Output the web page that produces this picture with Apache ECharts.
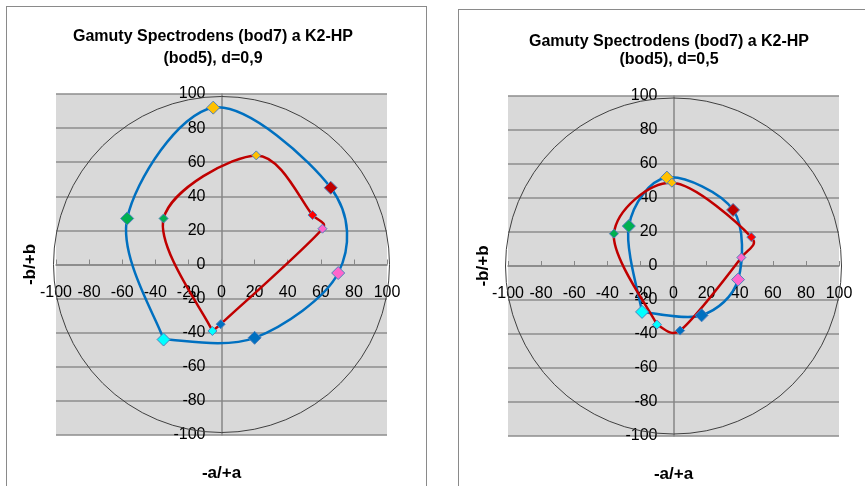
<!DOCTYPE html>
<html><head><meta charset="utf-8">
<script src="https://cdn.jsdelivr.net/npm/echarts/dist/echarts.min.js"></script>
<style>
html,body{margin:0;padding:0;background:#fff;overflow:hidden;}
#c{position:absolute;left:0;top:0;width:865px;height:486px;}
.box{position:absolute;border:1px solid #8a8a8a;}
</style></head><body>
<div class="box" style="left:6px;top:6px;width:419px;height:520px;"></div>
<div class="box" style="left:458px;top:9px;width:440px;height:520px;"></div>
<div id="c"></div>
<script>
// ---- data ----
var titles = ['Gamuty Spectrodens (bod7) a K2-HP\n(bod5), d=0,9', 'Gamuty Spectrodens (bod7) a K2-HP\n(bod5), d=0,5'];
var xName = '-a/+a';
var yName = '-b/+b';
var ticks = [-100, -80, -60, -40, -20, 0, 20, 40, 60, 80, 100];

// point order: cyan, green, yellow, red, pink, blue (curve closes back to cyan)
// left chart (d=0,9)
var bod7_d09_a = [-35, -57, -5, 66, 70.5, 20];
var bod7_d09_b = [-44, 27, 92, 45, -5, -43];
var bod5_d09_a = [-5.5, -35, 21, 55, 61, -0.5];
var bod5_d09_b = [-39, 27, 64, 29, 21, -35];
// right chart (d=0,5)
var bod7_d05_a = [-19, -27, -4, 36, 39, 17];
var bod7_d05_b = [-27, 23.5, 52, 33, -8, -29];
var bod5_d05_a = [-10, -36, -1, 47, 41, 4];
var bod5_d05_b = [-34.5, 19, 49, 17, 5, -38];

var bod7Colors = ['#00FFFF', '#00B050', '#FFC000', '#C00000', '#FF66CC', '#0070C0'];
var bod5Colors = ['#00FFFF', '#00B050', '#FFC000', '#FF0000', '#FF66CC', '#0070C0'];

var FONT = '"Liberation Sans", Arial, sans-serif';

var grids = [
  { left: 56, top: 94, width: 331, height: 341 },
  { left: 508, top: 96, width: 331, height: 340 }
];
var centers = [[221.5, 264.5], [673.5, 266]];
var titlePos = [[213, 48, 22], [669, 51, 18]];
var yNameGap = [183, 182];

function xAxis(i) {
  return {
    gridIndex: i, type: 'value', min: ticks[0], max: ticks[ticks.length - 1], interval: 20,
    position: 'bottom', offset: -grids[i].height / 2,
    axisLine: { onZero: false, lineStyle: { color: '#868686', width: 1.5 } },
    axisTick: { show: true, inside: true, length: 5, lineStyle: { color: '#868686', width: 1 } },
    axisLabel: { margin: 20, fontSize: 16, color: '#000', fontFamily: FONT, interval: 0 },
    splitLine: { show: false },
    name: xName, nameLocation: 'middle', nameGap: 200,
    nameTextStyle: { fontWeight: 'bold', fontSize: 17, color: '#000', fontFamily: FONT },
    z: 2
  };
}
function yAxis(i) {
  return {
    gridIndex: i, type: 'value', min: ticks[0], max: ticks[ticks.length - 1], interval: 20,
    position: 'left', offset: -grids[i].width / 2,
    axisLine: { onZero: false, lineStyle: { color: '#868686', width: 1.5 } },
    axisTick: { show: false },
    axisLabel: { margin: 16, fontSize: 16, color: '#000', fontFamily: FONT, interval: 0 },
    splitLine: { show: true, lineStyle: { color: '#8c8c8c', width: 1.5 } },
    name: yName, nameLocation: 'middle', nameGap: yNameGap[i], nameRotate: 90,
    nameTextStyle: { fontWeight: 'bold', fontSize: 17, color: '#000', fontFamily: FONT },
    z: 2
  };
}

// smooth curve (Excel-like Bezier spline) through the points, first point repeated at the end,
// computed in pixel space from the axis scales (api.coord)
function curveSeries(i, xs, ys, color, z) {
  return {
    type: 'custom', coordinateSystem: 'cartesian2d', xAxisIndex: i, yAxisIndex: i,
    data: [[xs[0], ys[0]]], z: z, silent: true, animation: false, clip: false,
    renderItem: function (params, api) {
      var p = xs.map(function (x, k) { return api.coord([x, ys[k]]); });
      p.push(p[0]);
      var n = p.length;
      function cp(a, b, from, seg) {
        var dx = (b[0] - a[0]) / 6, dy = (b[1] - a[1]) / 6;
        var len = Math.sqrt(dx * dx + dy * dy), lim = seg * 0.5;
        if (len > lim && len > 0) { dx *= lim / len; dy *= lim / len; }
        return [dx, dy];
      }
      var d = 'M' + p[0][0] + ' ' + p[0][1];
      for (var k = 0; k < n - 1; k++) {
        var p1 = p[k], p2 = p[k + 1];
        var p0 = k > 0 ? p[k - 1] : p1;
        var p3 = k + 2 < n ? p[k + 2] : p2;
        var seg = Math.sqrt(Math.pow(p2[0] - p1[0], 2) + Math.pow(p2[1] - p1[1], 2));
        var t1 = cp(p0, p2, p1, seg), t2 = cp(p1, p3, p2, seg);
        d += ' C' + (p1[0] + t1[0]) + ' ' + (p1[1] + t1[1]) + ' ' + (p2[0] - t2[0]) + ' ' + (p2[1] - t2[1]) + ' ' + p2[0] + ' ' + p2[1];
      }
      return { type: 'path', shape: { pathData: d }, style: { stroke: color, lineWidth: 2.5, fill: null } };
    }
  };
}
function markerSeries(i, xs, ys, colors, size, z) {
  return {
    type: 'scatter', xAxisIndex: i, yAxisIndex: i, symbol: 'diamond', symbolSize: size,
    data: xs.map(function (x, k) { return { value: [x, ys[k]], itemStyle: { color: colors[k] } }; }),
    itemStyle: { borderColor: '#4F81BD', borderWidth: 1, opacity: 1 },
    emphasis: { disabled: true }, animation: false, z: z
  };
}

var chart = echarts.init(document.getElementById('c'), null, { renderer: 'canvas' });
chart.setOption({
  animation: false,
  grid: grids.map(function (g) {
    return Object.assign({ show: true, backgroundColor: '#D9D9D9', borderWidth: 0, containLabel: false, outerBoundsMode: 'none' }, g);
  }),
  polar: centers.map(function (c) { return { center: c, radius: 168 }; }),
  angleAxis: [0, 1].map(function (i) {
    return {
      polarIndex: i, min: 0, max: 360, z: 3,
      axisLine: { show: true, lineStyle: { color: '#404040', width: 1 } },
      axisTick: { show: false }, axisLabel: { show: false }, splitLine: { show: false }
    };
  }),
  radiusAxis: [0, 1].map(function (i) {
    return { polarIndex: i, min: 0, max: 100, axisLine: { show: false }, axisTick: { show: false }, axisLabel: { show: false }, splitLine: { show: false } };
  }),
  xAxis: [xAxis(0), xAxis(1)],
  yAxis: [yAxis(0), yAxis(1)],
  graphic: titles.map(function (t, i) {
    return {
      type: 'text', x: titlePos[i][0], y: titlePos[i][1], z: 10,
      style: { text: t, align: 'center', verticalAlign: 'middle', fill: '#000',
        font: 'bold 16px ' + FONT, lineHeight: titlePos[i][2] }
    };
  }),
  series: [
    curveSeries(0, bod7_d09_a, bod7_d09_b, '#0070C0', 5),
    curveSeries(0, bod5_d09_a, bod5_d09_b, '#C00000', 6),
    markerSeries(0, bod7_d09_a, bod7_d09_b, bod7Colors, 13, 7),
    markerSeries(0, bod5_d09_a, bod5_d09_b, bod5Colors, 9, 8),
    curveSeries(1, bod7_d05_a, bod7_d05_b, '#0070C0', 5),
    curveSeries(1, bod5_d05_a, bod5_d05_b, '#C00000', 6),
    markerSeries(1, bod7_d05_a, bod7_d05_b, bod7Colors, 13, 7),
    markerSeries(1, bod5_d05_a, bod5_d05_b, bod5Colors, 9, 8)
  ]
});
</script>
</body></html>
